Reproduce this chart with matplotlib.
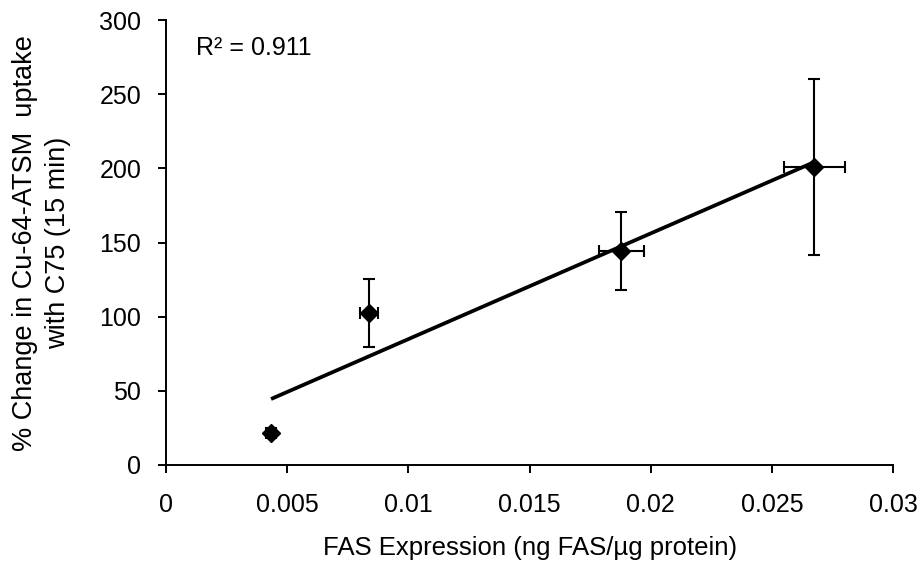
import matplotlib
matplotlib.use("Agg")
import matplotlib.pyplot as plt
import numpy as np

plt.rcParams['font.family'] = ['Liberation Sans', 'DejaVu Sans']

fas = [0.00433, 0.00837, 0.01878, 0.02675]
fas_err = [0.0002, 0.00036, 0.00093, 0.00125]
change = [21.6, 102.5, 144.5, 201.0]
change_err = [3.0, 22.7, 26.3, 59.3]
xticks = [0, 0.005, 0.01, 0.015, 0.02, 0.025, 0.03]
xticklabels = ['0', '0.005', '0.01', '0.015', '0.02', '0.025', '0.03']
yticks = [0, 50, 100, 150, 200, 250, 300]
r2_label = 'R² = 0.911'

fig = plt.figure(figsize=(9.23, 5.79), dpi=100)
ax = fig.add_axes([0.18, 0.197, 0.7875, 0.768])

x = np.array(fas)
y = np.array(change)
slope, intercept = np.polyfit(x, y, 1)
xl = np.array([x.min(), x.max()])
ax.plot(xl, slope * xl + intercept, color='black', lw=2.7, zorder=2, solid_capstyle='butt')

ax.errorbar(fas, change, xerr=fas_err, yerr=change_err, fmt='D', color='black',
            ms=9.5, ecolor='black', elinewidth=1.5, capsize=4.5, capthick=1.5, zorder=3)

ax.set_xlim(0, 0.03)
ax.set_ylim(0, 300)
ax.set_xticks(xticks)
ax.set_xticklabels(xticklabels)
ax.set_yticks(yticks)
ax.spines['top'].set_visible(False)
ax.spines['right'].set_visible(False)
for s in ['left', 'bottom']:
    ax.spines[s].set_linewidth(1.4)
ax.tick_params(axis='both', direction='out', length=6, width=1.4, labelsize=18)
ax.tick_params(axis='x', pad=14)
ax.tick_params(axis='y', pad=12)

ax.set_xlabel('FAS Expression (ng FAS/µg protein)', fontsize=18.5, labelpad=14)
ax.set_ylabel('% Change in Cu-64-ATSM  uptake\nwith C75 (15 min)', fontsize=19.5, labelpad=20,
              linespacing=1.35)

ax.text(0.00124, 281, r2_label, fontsize=18, ha='left', va='center')

fig.savefig('out.png', dpi=100)
